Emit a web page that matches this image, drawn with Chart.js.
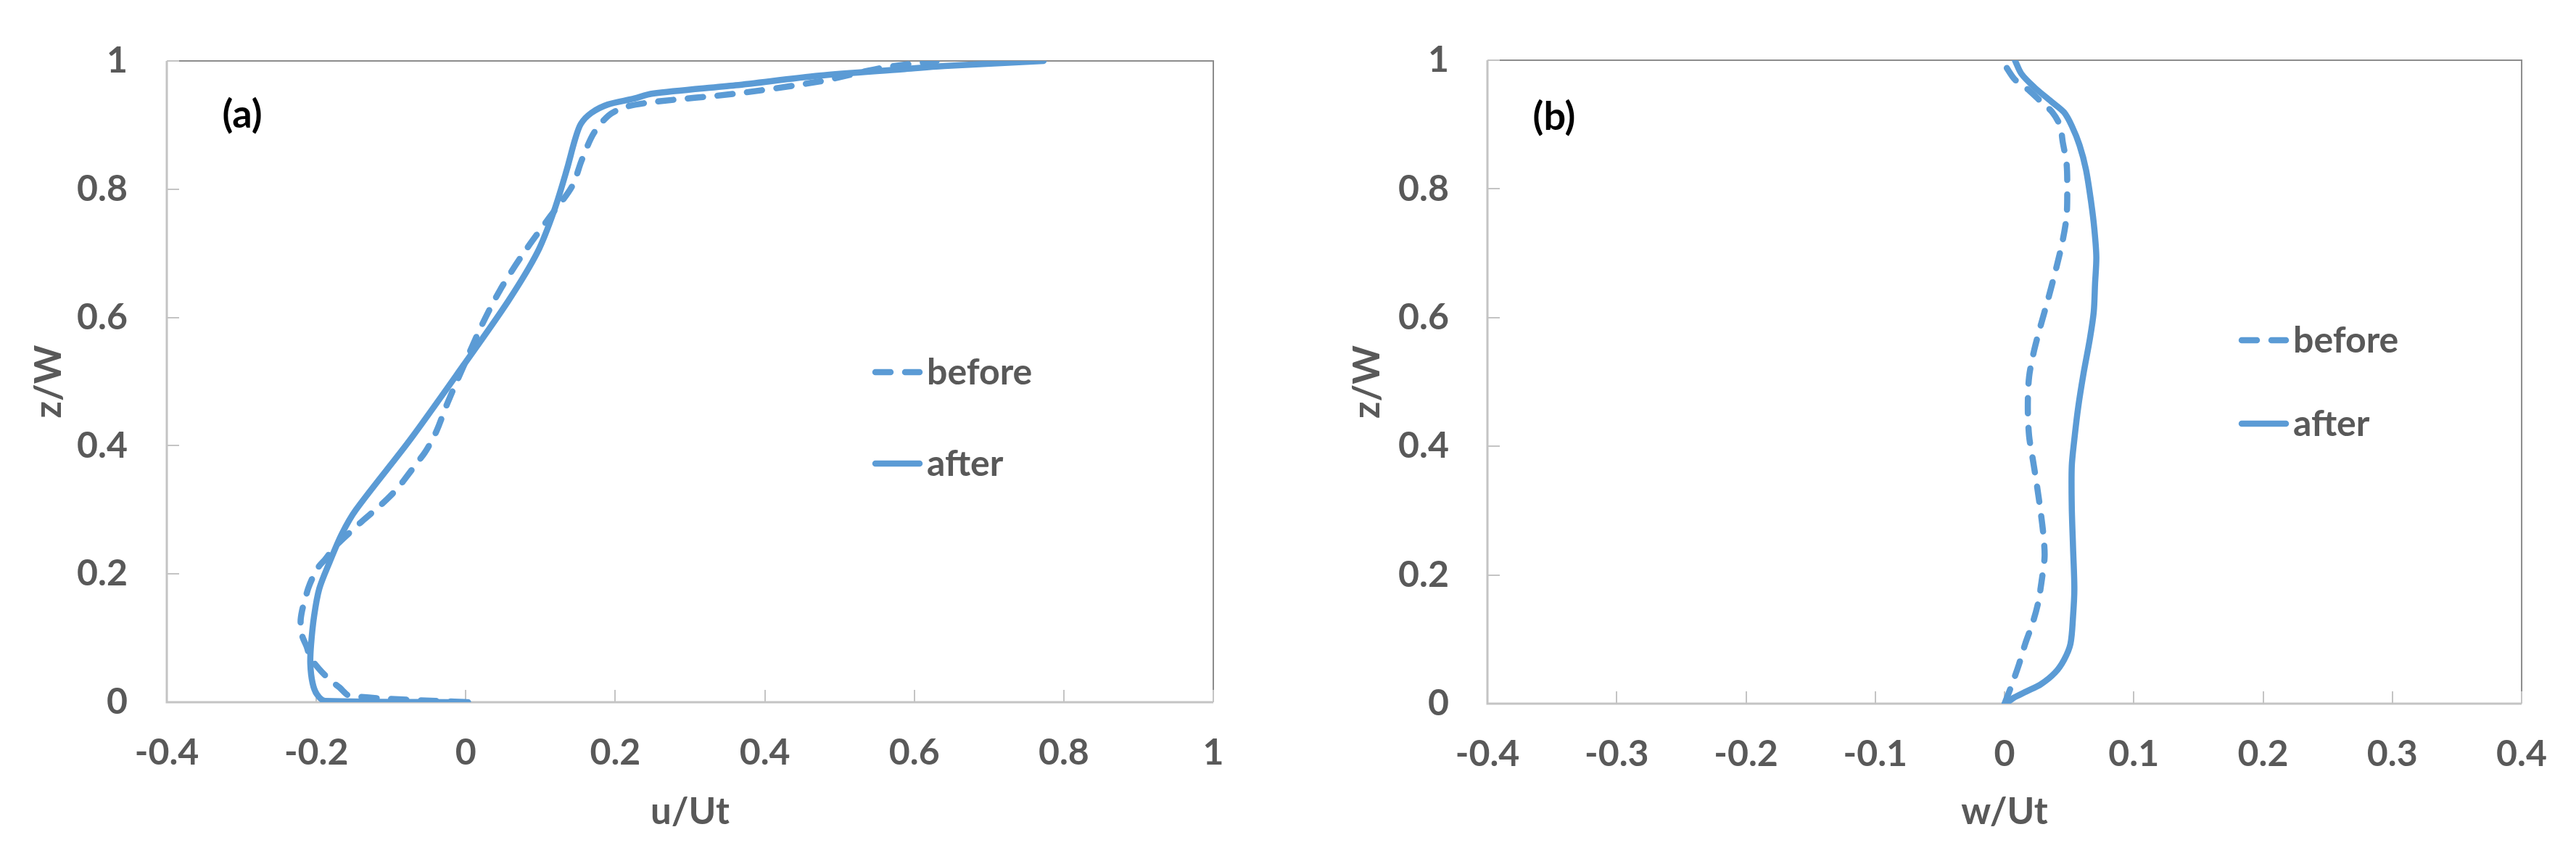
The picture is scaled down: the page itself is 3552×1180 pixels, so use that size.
<!DOCTYPE html>
<html>
<head>
<meta charset="utf-8">
<script src="https://cdn.jsdelivr.net/npm/chart.js@4.4.1/dist/chart.umd.min.js"></script>
<style>
body { margin:0; background:#fff; width:3552px; height:1180px; overflow:hidden; }
canvas { position:absolute; top:0; }
#chartA { left:0; }
#chartB { left:1776px; }
</style>
</head>
<body>
<canvas id="chartA" width="1776" height="1180"></canvas>
<canvas id="chartB" width="1776" height="1180"></canvas>
<script>
var blue = '#5b9bd5';
var grey = '#595959';
var seriesNames = ['before', 'after'];

// (a) u/Ut profiles
var uBefore = [0.0, -0.155, -0.169, -0.183, -0.197, -0.208, -0.213, -0.219, -0.221, -0.219, -0.215, -0.211, -0.205, -0.197, -0.188, -0.177, -0.166, -0.152, -0.138, -0.119, -0.105, -0.091, -0.077, -0.066, -0.055, -0.044, -0.038, -0.024, -0.003, 0.021, 0.046, 0.076, 0.110, 0.142, 0.155, 0.171, 0.191, 0.213, 0.251, 0.361, 0.473, 0.556, 0.630];
var zBeforeA = [0.0, 0.010, 0.023, 0.036, 0.053, 0.070, 0.087, 0.104, 0.126, 0.143, 0.160, 0.177, 0.194, 0.211, 0.223, 0.240, 0.253, 0.268, 0.283, 0.302, 0.317, 0.334, 0.355, 0.372, 0.389, 0.411, 0.426, 0.468, 0.524, 0.587, 0.643, 0.698, 0.753, 0.804, 0.845, 0.887, 0.915, 0.928, 0.936, 0.949, 0.968, 0.989, 1.0];
var uAfter = [0.003, -0.188, -0.199, -0.205, -0.208, -0.207, -0.203, -0.196, -0.182, -0.166, -0.147, -0.074, -0.004, 0.057, 0.096, 0.118, 0.135, 0.146, 0.154, 0.168, 0.190, 0.224, 0.250, 0.361, 0.473, 0.584, 0.640, 0.773];
var zAfterA = [0.0, 0.002, 0.012, 0.030, 0.060, 0.090, 0.134, 0.177, 0.219, 0.262, 0.300, 0.410, 0.524, 0.626, 0.702, 0.766, 0.830, 0.877, 0.902, 0.919, 0.932, 0.941, 0.949, 0.962, 0.977, 0.987, 0.992, 1.0];

// (b) w/Ut profiles
var wBefore = [0.0, 0.005, 0.011, 0.016, 0.022, 0.026, 0.029, 0.031, 0.030, 0.028, 0.025, 0.022, 0.019, 0.018, 0.019, 0.023, 0.028, 0.034, 0.040, 0.045, 0.048, 0.0485, 0.048, 0.045, 0.043, 0.037, 0.028, 0.019, 0.008, 0.001, -0.003];
var zBeforeB = [0.0, 0.026, 0.060, 0.093, 0.127, 0.157, 0.195, 0.229, 0.263, 0.297, 0.340, 0.378, 0.416, 0.461, 0.508, 0.550, 0.588, 0.631, 0.677, 0.720, 0.758, 0.800, 0.839, 0.873, 0.898, 0.919, 0.936, 0.953, 0.970, 0.990, 1.0];
var wAfter = [0.001, 0.007, 0.017, 0.028, 0.039, 0.046, 0.051, 0.053, 0.054, 0.053, 0.052, 0.052, 0.054, 0.057, 0.061, 0.066, 0.069, 0.070, 0.071, 0.0695, 0.067, 0.063, 0.058, 0.052, 0.046, 0.036, 0.023, 0.013, 0.008];
var zAfterB = [0.0, 0.009, 0.019, 0.030, 0.048, 0.068, 0.093, 0.136, 0.178, 0.242, 0.306, 0.369, 0.411, 0.461, 0.512, 0.567, 0.609, 0.652, 0.694, 0.737, 0.779, 0.830, 0.868, 0.898, 0.919, 0.936, 0.958, 0.979, 1.0];

var lineW = 8.5;
var dash = [21, 20];

function pts(xs, ys) {
    return xs.map(function (x, i) { return { x: x, y: ys[i] }; });
}

function fmt(v) {
    return String(Math.round(v * 100) / 100);
}

var excelFrame = {
    id: 'excelFrame',
    beforeDatasetsDraw: function (chart) {
        var ctx = chart.ctx, a = chart.chartArea;
        var xs = chart.scales.x, ys = chart.scales.y;
        ctx.save();
        // top / right border
        ctx.strokeStyle = '#8c8c8c';
        ctx.lineWidth = 2;
        ctx.beginPath();
        ctx.moveTo(a.left + 17, a.top);
        ctx.lineTo(a.right, a.top);
        ctx.lineTo(a.right, a.bottom - 17);
        ctx.stroke();
        // inward tick marks
        ctx.strokeStyle = '#c4c4c4';
        ctx.lineWidth = 2;
        ctx.beginPath();
        xs.ticks.forEach(function (t) {
            var p = Math.round(xs.getPixelForValue(t.value));
            ctx.moveTo(p, a.bottom);
            ctx.lineTo(p, a.bottom - 17);
        });
        ys.ticks.forEach(function (t) {
            var p = Math.round(ys.getPixelForValue(t.value));
            ctx.moveTo(a.left, p);
            ctx.lineTo(a.left + 17, p);
        });
        ctx.stroke();
        // axis lines
        ctx.lineWidth = 3;
        ctx.beginPath();
        ctx.moveTo(a.left, a.top);
        ctx.lineTo(a.left, a.bottom);
        ctx.lineTo(a.right, a.bottom);
        ctx.stroke();
        ctx.restore();
    },
    afterDraw: function (chart, args, opts) {
        var ctx = chart.ctx;
        ctx.save();
        ctx.fillStyle = '#000';
        ctx.font = 'bold 54px Lato';
        ctx.textAlign = 'center';
        ctx.textBaseline = 'middle';
        ctx.fillText(opts.label, opts.labelX, opts.labelY);
        // legend
        seriesNames.forEach(function (name, i) {
            var y = opts.legendY[i];
            ctx.strokeStyle = blue;
            ctx.lineWidth = lineW;
            ctx.lineCap = 'round';
            ctx.setLineDash(i === 0 ? dash : []);
            ctx.beginPath();
            ctx.moveTo(opts.legendX + 4, y);
            ctx.lineTo(opts.legendX + 65, y);
            ctx.stroke();
            ctx.setLineDash([]);
            ctx.fillStyle = grey;
            ctx.font = 'bold 50px Lato';
            ctx.textAlign = 'left';
            ctx.textBaseline = 'alphabetic';
            ctx.fillText(name, opts.legendX + 75, y + 17);
        });
        ctx.restore();
    }
};

function makeChart(id, before, after, xr, frame) {
    var tickFont = { family: 'Lato', size: 50, weight: 'bold' };
    var titleFont = { family: 'Lato', size: 51, weight: 'bold' };
    return new Chart(document.getElementById(id), {
        type: 'scatter',
        data: {
            datasets: [{
                label: seriesNames[0],
                data: before,
                showLine: true,
                borderColor: blue,
                borderWidth: lineW,
                borderDash: dash,
                borderCapStyle: 'round',
                borderJoinStyle: 'round',
                tension: 0.3,
                pointRadius: 0
            }, {
                label: seriesNames[1],
                data: after,
                showLine: true,
                borderColor: blue,
                borderWidth: lineW,
                borderCapStyle: 'round',
                borderJoinStyle: 'round',
                tension: 0.3,
                pointRadius: 0
            }]
        },
        options: {
            responsive: false,
            animation: false,
            devicePixelRatio: 1,
            layout: { padding: { left: 0, top: 69, right: frame.padRight, bottom: 0 } },
            plugins: {
                legend: { display: false },
                tooltip: { enabled: false },
                excelFrame: frame
            },
            scales: {
                x: {
                    type: 'linear',
                    min: xr.min, max: xr.max,
                    afterFit: function (s) { s.height = frame.xHeight; },
                    grid: { display: false, drawTicks: false },
                    border: { display: false },
                    ticks: { stepSize: xr.step, color: grey, font: tickFont, padding: 40, callback: fmt },
                    title: { display: true, text: xr.title, color: grey, font: titleFont, padding: { top: 0, bottom: 30 } }
                },
                y: {
                    type: 'linear',
                    min: 0, max: 1,
                    afterFit: function (s) { s.width = frame.yWidth; },
                    grid: { display: false, drawTicks: false },
                    border: { display: false },
                    ticks: { stepSize: 0.2, color: grey, font: tickFont, padding: frame.yPad, callback: fmt },
                    title: { display: true, text: 'z/W', color: grey, font: titleFont, padding: { top: frame.yTitlePad, bottom: 0 } }
                }
            }
        },
        plugins: [excelFrame]
    });
}

makeChart('chartA', pts(uBefore, zBeforeA), pts(uAfter, zAfterA),
    { min: -0.4, max: 1, step: 0.2, title: 'u/Ut' },
    { padRight: 103, xHeight: 212, yWidth: 230, yPad: 54, yTitlePad: 37,
      label: '(a)', labelX: 334, labelY: 159, legendX: 1203, legendY: [513, 639] });

makeChart('chartB', pts(wBefore, zBeforeB), pts(wAfter, zAfterB),
    { min: -0.4, max: 0.4, step: 0.1, title: 'w/Ut' },
    { padRight: 67, xHeight: 210, yWidth: 275, yPad: 53, yTitlePad: 79,
      label: '(b)', labelX: 367, labelY: 162, legendX: 1311, legendY: [469, 584] });
</script>
</body>
</html>
